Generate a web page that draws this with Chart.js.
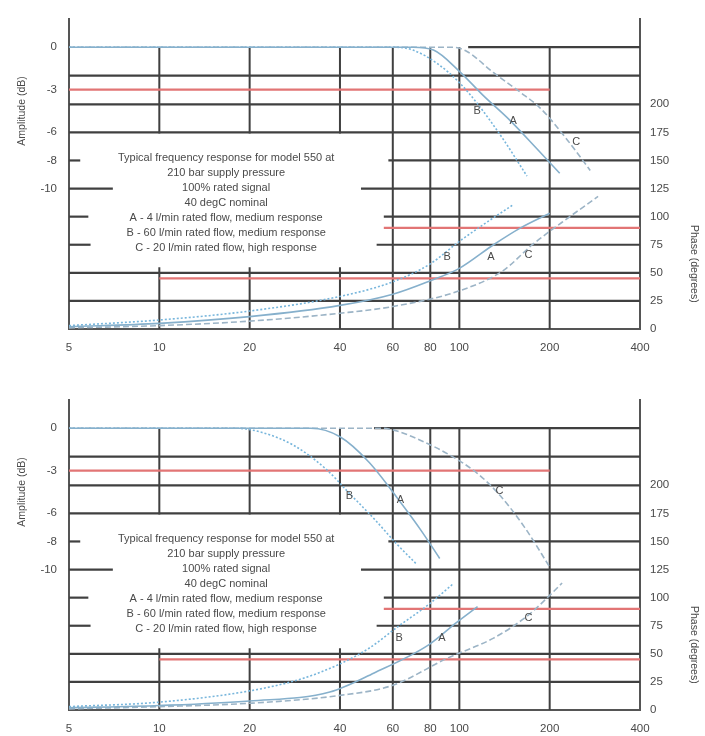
<!DOCTYPE html>
<html>
<head>
<meta charset="utf-8">
<script src="https://cdn.jsdelivr.net/npm/chart.js@4.4.1/dist/chart.umd.min.js"></script>
<style>
  body { margin: 0; background: #fff; width: 705px; height: 736px; overflow: hidden; position: relative; }
  .panel { position: absolute; left: 0; width: 705px; height: 370px; }
  #top { top: 0; }
  #bottom { top: 381px; }
</style>
</head>
<body>
<div class="panel" id="top"><canvas id="c1" width="705" height="370"></canvas></div>
<div class="panel" id="bottom"><canvas id="c2" width="705" height="370"></canvas></div>
<script>

const freqTicks = [5, 10, 20, 40, 60, 80, 100, 200, 400]
const ampTicks = [0, -3, -6, -8, -10]
const phaseTicks = [0, 25, 50, 75, 100, 125, 150, 175, 200]

const noteLines = [
    'Typical frequency response for model 550 at',
    '210 bar supply pressure',
    '100% rated signal',
    '40 degC nominal',
    'A - 4 l/min rated flow, medium response',
    'B - 60 l/min rated flow, medium response',
    'C - 20 l/min rated flow, high response'
]

// top panel curves, [Hz, dB] and [Hz, degrees]
const topAmpA = [[5, 0], [70, 0], [82, -0.2], [100, -1.7], [120, -3.4], [148, -5.2], [180, -7.1], [216, -8.9]]
const topAmpB = [[5, 0], [60, 0], [70, -0.2], [85, -1.2], [100, -2.5], [115, -4.0], [140, -6.5], [168, -9.1]]
const topAmpC = [[5, 0], [95, 0], [106, -0.3], [130, -1.8], [160, -3.2], [186, -4.3], [230, -6.6], [273, -8.7]]
const topPhaseA = [[5, 2], [10, 5], [20, 11], [40, 21], [60, 31], [80, 43], [100, 54], [130, 75], [160, 90], [200, 103]]
const topPhaseB = [[5, 3], [10, 8], [20, 16], [40, 29], [60, 42], [80, 58], [100, 78], [125, 96], [150, 110]]
const topPhaseC = [[5, 1], [10, 3], [20, 7], [40, 14], [60, 20], [100, 34], [140, 52], [175, 75], [220, 95], [290, 118]]

// bottom panel curves
const botAmpA = [[5, 0], [32, 0], [40, -0.6], [50, -2.4], [64, -5.3], [75, -7.3], [86, -9.2]]
const botAmpB = [[5, 0], [18, 0], [22, -0.3], [28, -1.2], [36, -2.9], [43, -4.6], [52, -6.4], [62, -8.2], [72, -9.6]]
const botAmpC = [[5, 0], [55, 0], [62, -0.2], [75, -0.9], [93, -1.9], [115, -3.2], [136, -4.7], [165, -7.0], [200, -9.8]]
const botPhaseA = [[5, 2], [10, 4], [20, 8], [37, 16], [52, 33], [79, 58], [98, 78], [115, 92]]
const botPhaseB = [[5, 3], [10, 7], [20, 17], [30, 28], [40, 41], [50, 55], [63, 75], [80, 95], [95, 112]]
const botPhaseC = [[5, 1], [10, 3], [20, 6], [40, 13], [60, 22], [91, 46], [130, 64], [169, 84], [200, 102], [220, 113]]

// curve letters: [text, Hz, value, axis]
const topLabels = [['B', 114.6, -4.5, 'amp'], ['A', 151, -5.2, 'amp'], ['C', 245, -6.7, 'amp'],
                   ['B', 91, 64.5, 'ph'], ['A', 127.5, 64.5, 'ph'], ['C', 170, 66, 'ph']]
const botLabels = [['B', 43, -4.8, 'amp'], ['A', 63.6, -5.1, 'amp'], ['C', 136, -4.4, 'amp'],
                   ['B', 63, 64, 'ph'], ['A', 87.5, 64, 'ph'], ['C', 170, 82, 'ph']]

// horizontal rules: [value, from Hz, to Hz]
const ampRulesDark = [[-2, 5, 400]]
const ampRulesRed = [[-3, 5, 200]]
const phaseRulesDark = [[200, 5, 400], [175, 5, 400], [150, 5, 5.45], [150, 58, 400], [125, 5, 7], [125, 47, 400],
                        [100, 5, 5.8], [100, 56, 400], [75, 5, 5.9], [75, 53, 400], [50, 5, 400], [25, 5, 400]]
const phaseRulesRed = [[90, 56, 400], [45, 10, 400]]
const topZeroRule = [[0, 107, 400]]
const botZeroRule = [[0, 52, 400]]

// vertical rules
const shortVert = [10, 20, 40]
const fullVert = [60, 80, 100, 200]

const AMP_MIN = -19.9, AMP_MAX = 2.0, PHASE_MAX = 276
const dark = '#404040', red = '#e27575'
const curveColor = {A: '#86b0cc', B: '#78b6dc', C: '#9cb4c6'}
const curveDash = {A: [], B: [2, 2], C: [6, 3]}
const textColor = '#4a4a4a'
const fontFamily = '"Liberation Sans", Arial, sans-serif'


function seg(pts, axis, color, width, dash) {
    return {
        data: pts.map(p => ({x: p[0], y: p[1]})),
        yAxisID: axis,
        borderColor: color,
        borderWidth: width,
        borderDash: dash || [],
        pointRadius: 0,
        fill: false,
        tension: 0
    }
}


function buildDatasets(panel) {
    let ds = []

    // curves first so they sit on top
    ;['A', 'B', 'C'].forEach(k => {
        let a = seg(panel.amp[k], 'amp', curveColor[k], 1.6, curveDash[k])
        a.cubicInterpolationMode = 'monotone'
        ds.push(a)
        let p = seg(panel.phase[k], 'ph', curveColor[k], 1.6, curveDash[k])
        p.cubicInterpolationMode = 'monotone'
        ds.push(p)
    })

    ampRulesDark.concat(panel.zero).forEach(r => ds.push(seg([[r[1], r[0]], [r[2], r[0]]], 'amp', dark, 2.2)))
    ampRulesRed.forEach(r => ds.push(seg([[r[1], r[0]], [r[2], r[0]]], 'amp', red, 2.2)))
    phaseRulesDark.forEach(r => ds.push(seg([[r[1], r[0]], [r[2], r[0]]], 'ph', dark, 2.2)))
    phaseRulesRed.forEach(r => ds.push(seg([[r[1], r[0]], [r[2], r[0]]], 'ph', red, 2.2)))

    shortVert.forEach(f => {
        ds.push(seg([[f, 0], [f, -6.1]], 'amp', dark, 2))
        ds.push(seg([[f, 55], [f, 0]], 'ph', dark, 2))
    })
    fullVert.forEach(f => ds.push(seg([[f, 0], [f, AMP_MIN]], 'amp', dark, 2)))

    return ds
}


function textPlugin(panel) {
    return {
        id: 'notes',
        afterDraw(chart) {
            const ctx = chart.ctx
            const {x, amp, ph} = chart.scales
            ctx.save()
            ctx.fillStyle = textColor

            // axis titles
            ctx.font = '10.5px ' + fontFamily
            ctx.textAlign = 'center'
            ctx.textBaseline = 'middle'
            ctx.save()
            ctx.translate(22, amp.getPixelForValue(-4.5))
            ctx.rotate(-Math.PI / 2)
            ctx.fillText('Amplitude (dB)', 0, 0)
            ctx.restore()
            ctx.save()
            ctx.translate(694, ph.getPixelForValue(58))
            ctx.rotate(Math.PI / 2)
            ctx.fillText('Phase (degrees)', 0, 0)
            ctx.restore()

            // note block
            ctx.font = '11px ' + fontFamily
            let cx = x.getPixelForValue(16.7)
            let y0 = amp.getPixelForValue(-7.8)
            noteLines.forEach((t, i) => ctx.fillText(t, cx, y0 + i * 15))

            // curve letters
            ctx.font = '11px ' + fontFamily
            panel.labels.forEach(l => {
                let sc = l[3] === 'amp' ? amp : ph
                ctx.fillText(l[0], x.getPixelForValue(l[1]), sc.getPixelForValue(l[2]))
            })
            ctx.restore()
        }
    }
}


function makeChart(id, panel) {
    const tickFont = {family: fontFamily, size: 11.5}
    return new Chart(document.getElementById(id), {
        type: 'line',
        data: {datasets: buildDatasets(panel)},
        plugins: [textPlugin(panel)],
        options: {
            responsive: false,
            animation: false,
            devicePixelRatio: 1,
            layout: {padding: {top: 13, left: 0, right: 0, bottom: 0}},
            plugins: {legend: {display: false}, tooltip: {enabled: false}},
            scales: {
                x: {
                    type: 'logarithmic',
                    min: 5,
                    max: 400,
                    afterBuildTicks: s => { s.ticks = freqTicks.map(v => ({value: v})) },
                    afterFit: s => { s.height = 41 },
                    ticks: {callback: v => String(v), autoSkip: false, maxRotation: 0,
                            padding: 12, color: textColor, font: tickFont},
                    grid: {display: false, drawTicks: false},
                    border: {color: '#555', width: 2}
                },
                amp: {
                    type: 'linear',
                    position: 'left',
                    min: AMP_MIN,
                    max: AMP_MAX,
                    afterBuildTicks: s => { s.ticks = ampTicks.map(v => ({value: v})) },
                    afterFit: s => { s.width = 69 },
                    ticks: {callback: v => String(v), padding: 12, color: textColor, font: tickFont},
                    grid: {display: false, drawTicks: false},
                    border: {color: '#555', width: 2}
                },
                ph: {
                    type: 'linear',
                    position: 'right',
                    min: 0,
                    max: PHASE_MAX,
                    afterBuildTicks: s => { s.ticks = phaseTicks.map(v => ({value: v})) },
                    afterFit: s => { s.width = 65 },
                    ticks: {callback: v => String(v), padding: 10, color: textColor, font: tickFont},
                    grid: {display: false, drawTicks: false},
                    border: {color: '#555', width: 2}
                }
            }
        }
    })
}


makeChart('c1', {
    amp: {A: topAmpA, B: topAmpB, C: topAmpC},
    phase: {A: topPhaseA, B: topPhaseB, C: topPhaseC},
    zero: topZeroRule,
    labels: topLabels
})

makeChart('c2', {
    amp: {A: botAmpA, B: botAmpB, C: botAmpC},
    phase: {A: botPhaseA, B: botPhaseB, C: botPhaseC},
    zero: botZeroRule,
    labels: botLabels
})

</script>
</body>
</html>
